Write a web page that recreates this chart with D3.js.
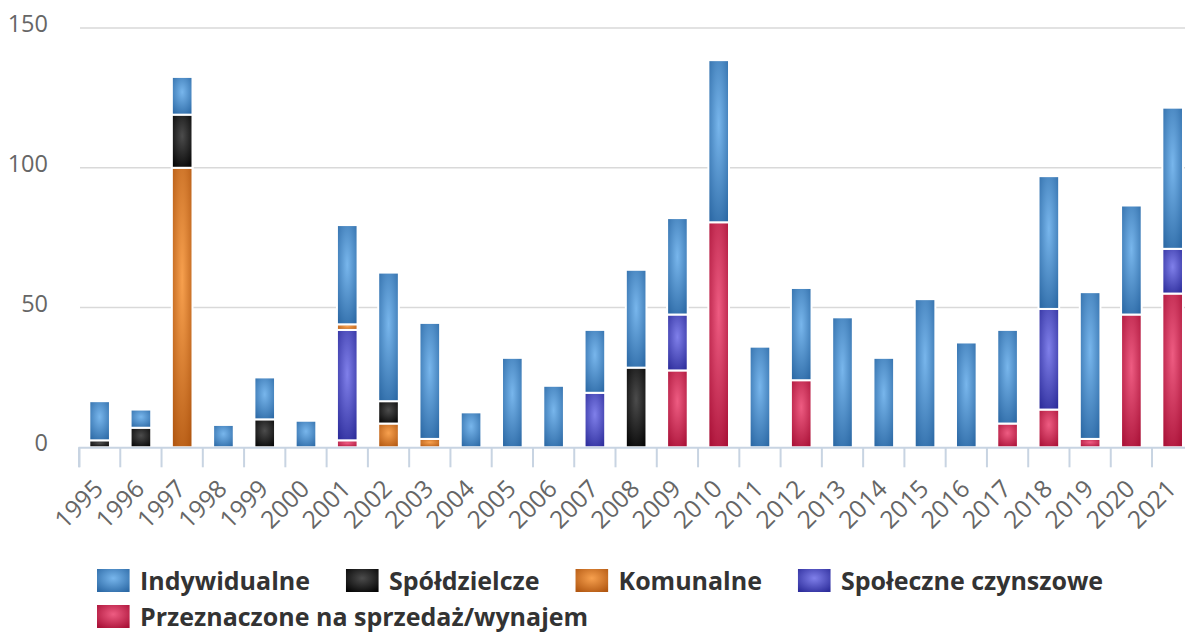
<!DOCTYPE html>
<html>
<head>
<meta charset="utf-8">
<script src="https://cdn.jsdelivr.net/npm/d3@7"></script>
<style>
  html, body { margin: 0; padding: 0; background: #fff; }
  svg { display: block; font-family: "Open Sans", "DejaVu Sans", sans-serif; }
</style>
</head>
<body>
<svg id="chart" width="1185" height="633"></svg>
<script>
// ---- data ----
const years = ["1995","1996","1997","1998","1999","2000","2001","2002","2003","2004","2005","2006","2007","2008","2009","2010","2011","2012","2013","2014","2015","2016","2017","2018","2019","2020","2021"];
const indywidualne = [14, 6.5, 13.5, 8, 15, 9.5, 35.5, 46, 41.5, 12.5, 32, 22, 22.5, 35, 34.5, 58, 36, 33, 46.5, 32, 53, 37.5, 33.5, 47.5, 52.5, 39, 50.5];
const spoldzielcze = [2.5, 7, 19, 0, 10, 0, 0, 8, 0, 0, 0, 0, 0, 28.5, 0, 0, 0, 0, 0, 0, 0, 0, 0, 0, 0, 0, 0];
const komunalne    = [0, 0, 100, 0, 0, 0, 2, 8.5, 3, 0, 0, 0, 0, 0, 0, 0, 0, 0, 0, 0, 0, 0, 0, 0, 0, 0, 0];
const spoleczne    = [0, 0, 0, 0, 0, 0, 39.5, 0, 0, 0, 0, 0, 19.5, 0, 20, 0, 0, 0, 0, 0, 0, 0, 0, 36, 0, 0, 16];
const przeznaczone = [0, 0, 0, 0, 0, 0, 2.5, 0, 0, 0, 0, 0, 0, 0, 27.5, 80.5, 0, 24, 0, 0, 0, 0, 8.5, 13.5, 3, 47.5, 55];
const yTicks = [0, 50, 100, 150];

const seriesNames = ["Indywidualne", "Spółdzielcze", "Komunalne", "Społeczne czynszowe", "Przeznaczone na sprzedaż/wynajem"];
const seriesKeys  = ["ind", "spo", "kom", "czy", "prz"];
const seriesColors = {
  ind: ["#78b6ec", "#2d6aa6"],
  spo: ["#4c4c4c", "#050505"],
  kom: ["#f7a04e", "#b25812"],
  czy: ["#8080ea", "#2e2e9c"],
  prz: ["#ee5c82", "#aa1238"]
};

// ---- build table ----
const table = years.map((yr, i) => ({
  year: yr,
  ind: indywidualne[i], spo: spoldzielcze[i], kom: komunalne[i], czy: spoleczne[i], prz: przeznaczone[i]
}));
const stackOrder = ["prz", "czy", "kom", "spo", "ind"]; // bottom -> top
const stacked = d3.stack().keys(stackOrder)(table);

// ---- layout ----
const plotLeft = 79, plotRight = 1193.3, plotTop = 28, plotBottom = 447.3;
const svg = d3.select("#chart");

const x = d3.scaleBand().domain(years).range([plotLeft, plotRight]).paddingInner(0).paddingOuter(0);
const y = d3.scaleLinear().domain([0, 150]).range([plotBottom, plotTop]);

// gradients
const defs = svg.append("defs");
seriesKeys.forEach(k => {
  const g = defs.append("radialGradient").attr("id", "g-" + k)
    .attr("cx", "50%").attr("cy", "40%").attr("r", "70%");
  g.append("stop").attr("offset", "0%").attr("stop-color", seriesColors[k][0]);
  g.append("stop").attr("offset", "100%").attr("stop-color", seriesColors[k][1]);
});

// gridlines
svg.append("g")
  .selectAll("line").data(yTicks.filter(t => t > 0)).join("line")
  .attr("x1", plotLeft + 1).attr("x2", 1185)
  .attr("y1", d => y(d)).attr("y2", d => y(d))
  .attr("stroke", "#d9d9d9").attr("stroke-width", 1.5);

// y labels
svg.append("g")
  .selectAll("text").data(yTicks).join("text")
  .attr("x", 48).attr("y", d => y(d) + 4)
  .attr("text-anchor", "end")
  .attr("font-size", 23.5).attr("fill", "#666")
  .text(d => d);

// bars
const barW = x.bandwidth() * 0.5;
svg.append("g").selectAll("g").data(stacked).join("g")
  .attr("fill", d => "url(#g-" + d.key + ")")
  .selectAll("rect").data(d => d.filter(s => s[1] - s[0] > 0)).join("rect")
  .attr("x", d => x(d.data.year) + (x.bandwidth() - barW) / 2)
  .attr("width", barW)
  .attr("y", d => y(d[1]))
  .attr("height", d => y(d[0]) - y(d[1]))
  .attr("stroke", "#fff").attr("stroke-width", 2);

// x axis
const xAxis = d3.axisBottom(x).tickSize(20).tickFormat(d => d);
const gx = svg.append("g").attr("transform", `translate(0,${plotBottom})`).call(xAxis);
gx.select(".domain").attr("stroke", "#c8d4e2").attr("stroke-width", 2);
gx.selectAll(".tick line")
  .attr("x1", -x.bandwidth() / 2).attr("x2", -x.bandwidth() / 2)
  .attr("stroke", "#c8d4e2").attr("stroke-width", 2);
gx.append("line")
  .attr("x1", plotRight).attr("x2", plotRight).attr("y1", 0).attr("y2", 20)
  .attr("stroke", "#c8d4e2").attr("stroke-width", 2);
gx.selectAll(".tick text")
  .attr("font-size", 24.5).attr("fill", "#666")
  .attr("font-family", "Open Sans, DejaVu Sans, sans-serif")
  .attr("text-anchor", "end")
  .attr("dy", null)
  .attr("y", null)
  .attr("transform", "translate(5,43) rotate(-45)");

// legend
const legend = svg.append("g");
let lx = 97, ly = 569;
const rowH = 36;
seriesKeys.forEach((k, i) => {
  const it = legend.append("g");
  it.append("rect").attr("width", 32.6).attr("height", 23)
    .attr("fill", "url(#g-" + k + ")");
  const t = it.append("text").attr("x", 43).attr("y", 21)
    .attr("font-size", 25).attr("font-weight", "bold").attr("fill", "#333")
    .text(seriesNames[i]);
  const w = 43 + t.node().getComputedTextLength();
  if (lx + w > 1180 && lx > 97) { lx = 97; ly += rowH; }
  it.attr("transform", `translate(${lx},${ly})`);
  lx += w + 36;
});
</script>
</body>
</html>
